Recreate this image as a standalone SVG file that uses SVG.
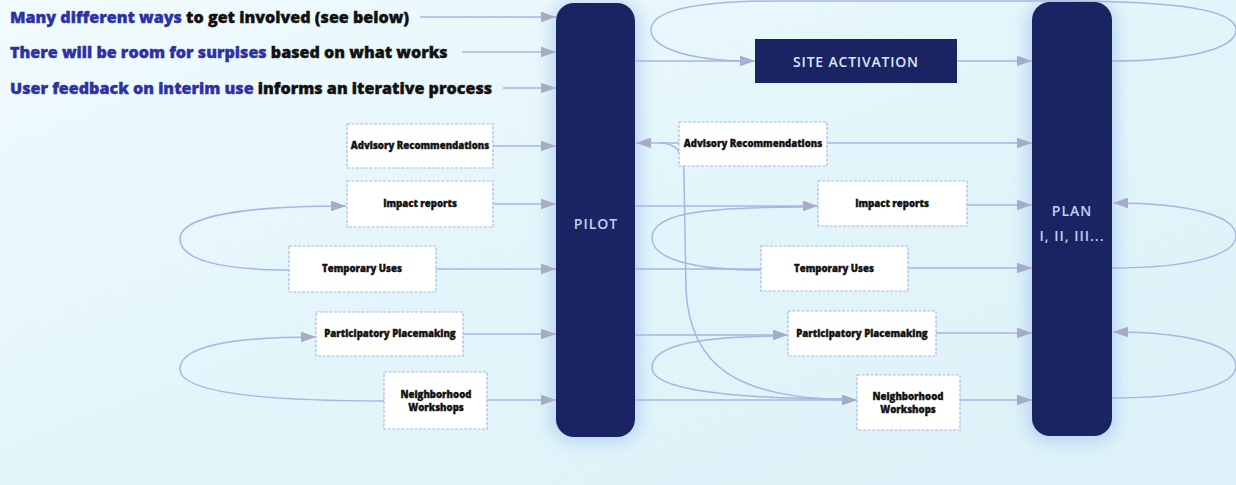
<svg xmlns="http://www.w3.org/2000/svg" width="1236" height="485" viewBox="0 0 1236 485">
<defs>
<linearGradient id="bg" x1="0" y1="0" x2="1" y2="1">
<stop offset="0" stop-color="#f1fbfd"/>
<stop offset="0.5" stop-color="#e2f5fa"/>
<stop offset="1" stop-color="#dcf2f8"/>
</linearGradient>
<filter id="glow" x="-50%" y="-10%" width="200%" height="120%">
<feGaussianBlur stdDeviation="8"/>
</filter>
<marker id="ah" viewBox="0 0 14 10" refX="14" refY="5" markerWidth="15" markerHeight="11" orient="auto" markerUnits="userSpaceOnUse">
<path d="M0,0 L14,5 L0,10 z" fill="#a9aac6"/>
</marker>
</defs>
<style>
.ln{fill:none;stroke:#a7b5e2;stroke-width:1.5}
.ar{marker-end:url(#ah)}
.box{fill:#ffffff;stroke:#a9b8ea;stroke-width:1.2;stroke-dasharray:3 1.5}
.bt{font-family:"Open Sans","Liberation Sans",sans-serif;font-weight:800;font-size:9.6px;fill:#111;stroke:#111;stroke-width:0.35;text-anchor:middle}
.bar{fill:#1b2462}
.bart{font-family:"Open Sans","Liberation Sans",sans-serif;font-weight:600;font-size:14px;fill:#c3d0f2;text-anchor:middle;letter-spacing:1px}
.top{font-family:"Open Sans","Liberation Sans",sans-serif;font-weight:800;font-size:16.1px;fill:#111;stroke:#111;stroke-width:0.4}
.blue{fill:#2d31a3;stroke:#2d31a3}
</style>
<rect width="1236" height="485" fill="url(#bg)"/>

<!-- glows -->
<rect x="550" y="0" width="91" height="443" rx="24" fill="#9fc0ee" opacity="0.55" filter="url(#glow)"/>
<rect x="1026" y="0" width="91" height="443" rx="24" fill="#9fc0ee" opacity="0.55" filter="url(#glow)"/>

<g id="connectors">
<line class="ln ar" x1="420" y1="17" x2="556" y2="17"/>
<line class="ln ar" x1="462" y1="52" x2="556" y2="52"/>
<line class="ln ar" x1="503" y1="88" x2="556" y2="88"/>
<line class="ln ar" x1="493" y1="146" x2="556" y2="146"/>
<line class="ln ar" x1="493" y1="204" x2="556" y2="204"/>
<line class="ln ar" x1="436" y1="269" x2="556" y2="269"/>
<line class="ln ar" x1="463" y1="334" x2="556" y2="334"/>
<line class="ln ar" x1="487" y1="400" x2="556" y2="400"/>
<path class="ln ar" d="M289,270 C215,270 180,258 180,239 C180,219 230,206 346,206"/>
<path class="ln ar" d="M384,401 C260,401 180,392 180,369 C180,346 230,337 316,337"/>
<line class="ln ar" x1="635" y1="61" x2="755" y2="61"/>
<line class="ln ar" x1="957" y1="61" x2="1032" y2="61"/>
<path class="ln" d="M1112,61 C1190,61 1236,48 1236,30 C1236,10 1180,1 1060,1 L780,1 C690,1 651,12 651,30 C651,48 690,61 750,61"/>
<line class="ln ar" x1="679" y1="143" x2="636" y2="143"/>
<line class="ln ar" x1="827" y1="143" x2="1032" y2="143"/>
<line class="ln ar" x1="635" y1="206" x2="818" y2="206"/>
<line class="ln ar" x1="967" y1="205" x2="1032" y2="205"/>
<line class="ln" x1="635" y1="269" x2="761" y2="269"/>
<line class="ln ar" x1="908" y1="268" x2="1032" y2="268"/>
<line class="ln ar" x1="635" y1="335" x2="788" y2="335"/>
<line class="ln ar" x1="936" y1="333" x2="1032" y2="333"/>
<line class="ln ar" x1="635" y1="400" x2="857" y2="400"/>
<line class="ln ar" x1="960" y1="400" x2="1032" y2="400"/>
<path class="ln" d="M761,270 C690,270 652,258 652,238 C652,216 690,207 805,207"/>
<path class="ln" d="M850,399 C720,399 652,388 652,368 C652,347 690,337 775,336"/>
<path class="ln ar" d="M660,143 C676,143 684,152 684,175 L686,290 C690,365 735,400 857,400"/>
<path class="ln ar" d="M1112,268 C1190,268 1236,255 1236,236 C1236,216 1190,203 1113,203"/>
<path class="ln ar" d="M1112,398 C1190,398 1236,385 1236,366 C1236,346 1190,332 1113,332"/>
</g>

<g id="intro-texts">
<text class="top" x="10" y="23"><tspan class="blue">Many different ways</tspan> to get involved (see below)</text>
<text class="top" x="10" y="58"><tspan class="blue">There will be room for surpises</tspan> based on what works</text>
<text class="top" x="10" y="94"><tspan class="blue">User feedback on interim use</tspan> informs an iterative process</text>
</g>

<g id="pilot">
<rect class="bar" x="556" y="3" width="79" height="434" rx="18"/>
<text class="bart" x="596" y="229">PILOT</text>
</g>
<g id="plan">
<rect class="bar" x="1032" y="2" width="80" height="434" rx="18"/>
<text class="bart" x="1072" y="216">PLAN</text>
<text class="bart" x="1072" y="241" letter-spacing="0.5">I, II, III...</text>
</g>
<g id="site-activation">
<rect x="755" y="39" width="202" height="44" fill="#1b2462"/>
<text x="856" y="67" font-family="'Open Sans','Liberation Sans',sans-serif" font-weight="600" font-size="14" fill="#dde4f8" text-anchor="middle" letter-spacing="0.8">SITE ACTIVATION</text>
</g>

<g id="advisory-left"><rect class="box" x="347" y="124" width="146" height="44"/><text class="bt" x="420" y="149">Advisory Recommendations</text></g>
<g id="impact-left"><rect class="box" x="347" y="181" width="146" height="46"/><text class="bt" x="420" y="207">Impact reports</text></g>
<g id="temporary-left"><rect class="box" x="289" y="246" width="147" height="46"/><text class="bt" x="362" y="272">Temporary Uses</text></g>
<g id="participatory-left"><rect class="box" x="316" y="312" width="147" height="44"/><text class="bt" x="390" y="337">Participatory Placemaking</text></g>
<g id="neighborhood-left"><rect class="box" x="384" y="372" width="103" height="57"/><text class="bt" x="436" y="398">Neighborhood</text><text class="bt" x="436" y="411">Workshops</text></g>

<g id="advisory-mid"><rect class="box" x="679" y="122" width="148" height="44"/><text class="bt" x="753" y="147">Advisory Recommendations</text></g>
<g id="impact-mid"><rect class="box" x="818" y="181" width="149" height="45"/><text class="bt" x="892" y="207">Impact reports</text></g>
<g id="temporary-mid"><rect class="box" x="761" y="246" width="147" height="45"/><text class="bt" x="834" y="272">Temporary Uses</text></g>
<g id="participatory-mid"><rect class="box" x="788" y="311" width="148" height="45"/><text class="bt" x="862" y="337">Participatory Placemaking</text></g>
<g id="neighborhood-mid"><rect class="box" x="857" y="375" width="103" height="55"/><text class="bt" x="908" y="400">Neighborhood</text><text class="bt" x="908" y="413">Workshops</text></g>
</svg>
